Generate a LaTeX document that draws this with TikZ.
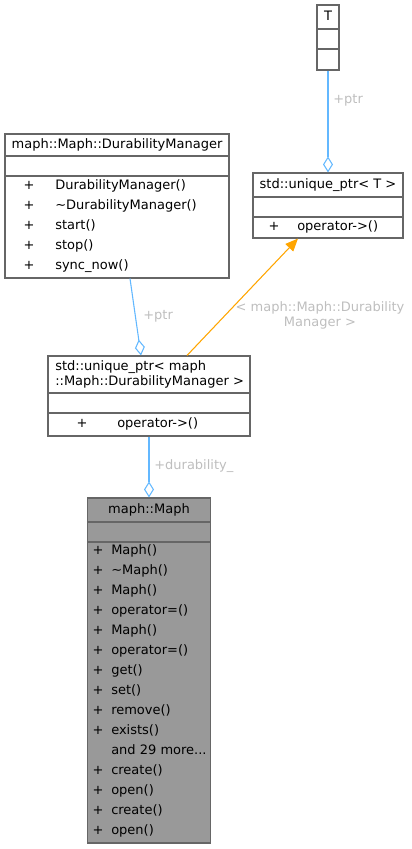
\documentclass[tikz,border=0pt]{standalone}
\usepackage{fontspec}
\setmainfont{DejaVu Sans}
\usepackage{tikz}
\usetikzlibrary{positioning,%
  calc,%
  arrows.meta
}
\definecolor{edgeblue}{HTML}{63B8FF}
\definecolor{edgeorange}{HTML}{FFA500}
\definecolor{boxgray}{HTML}{666666}
\definecolor{focusgray}{HTML}{999999}
\definecolor{labelgray}{HTML}{BEBEBE}

\begin{document}
\begin{tikzpicture}[x=0.75pt,y=-0.75pt,
    classbox/.style 2 args={draw=boxgray,line width=0.8pt,fill=white,inner sep=0pt,
        minimum width=#1*0.75pt,minimum height=#2*0.75pt},
    sepline/.style={draw=boxgray,line width=0.8pt},
    txt/.style={inner sep=0pt,font=\fontsize{9.75}{11.25}\selectfont,
        text height=7.3pt,text depth=2.3pt},
    lbl/.style={txt,text=labelgray},
    aggr/.style={draw=edgeblue,line width=0.8pt,
        -{Diamond[open,length=12pt,width=7.5pt]}},
    tmpl/.style={draw=edgeorange,line width=0.8pt,
        -{Triangle[length=9.5pt,width=8pt]}}]
    \useasboundingbox (0,0) rectangle (411,849);

    % T
    \node[classbox={22}{65}] (t) at (328,37.5) {};
    \node[txt] (ttitle) at (328,17) {T};
    \draw[sepline] (t.west |- 0,29) -- (t.east |- 0,29);
    \draw[sepline] (t.west |- 0,49) -- (t.east |- 0,49);

    % std::unique_ptr< T >
    \node[classbox={150}{65}] (utp) at (328,205.5) {};
    \node[txt] (utptitle) at (328,185) {std::unique\_ptr< T >};
    \draw[sepline] (utp.west |- 0,197) -- (utp.east |- 0,197);
    \draw[sepline] (utp.west |- 0,217) -- (utp.east |- 0,217);
    \node[txt] (utpplus) at (274,227) {+};
    \node[txt,anchor=west] (utpop) at (297,227) {operator->()};

    % maph::Maph::DurabilityManager
    \node[classbox={224}{144}] (dm) at (117,206) {};
    \node[txt] (dmtitle) at (117,145) {maph::Maph::DurabilityManager};
    \draw[sepline] (dm.west |- 0,156) -- (dm.east |- 0,156);
    \draw[sepline] (dm.west |- 0,176) -- (dm.east |- 0,176);
    \node[txt] (dmplusa) at (29,186) {+};
    \node[txt,anchor=west] (dmctor) at (55,186) {DurabilityManager()};
    \node[txt] (dmplusb) at (29,206) {+};
    \node[txt,anchor=west] (dmdtor) at (55,206) {\textasciitilde DurabilityManager()};
    \node[txt] (dmplusc) at (29,226) {+};
    \node[txt,anchor=west] (dmstart) at (55,226) {start()};
    \node[txt] (dmplusd) at (29,246) {+};
    \node[txt,anchor=west] (dmstop) at (55,246) {stop()};
    \node[txt] (dmpluse) at (29,266) {+};
    \node[txt,anchor=west] (dmsync) at (55,266) {sync\_now()};

    % std::unique_ptr< maph::Maph::DurabilityManager >
    \node[classbox={202}{80}] (updm) at (149,396) {};
    \node[txt,anchor=west,align=left,text height=,text depth=] (updmtitle) at (55,374.5)
        {std::unique\_ptr< maph\\::Maph::DurabilityManager >};
    \draw[sepline] (updm.west |- 0,393) -- (updm.east |- 0,393);
    \draw[sepline] (updm.west |- 0,413) -- (updm.east |- 0,413);
    \node[txt] (updmplus) at (82,424) {+};
    \node[txt,anchor=west] (updmop) at (117,424) {operator->()};

    % maph::Maph
    \node[classbox={123}{345},fill=focusgray] (maph) at (149,670.5) {};
    \node[txt] (maphtitle) at (149,510) {maph::Maph};
    \draw[sepline] (maph.west |- 0,522) -- (maph.east |- 0,522);
    \draw[sepline] (maph.west |- 0,542) -- (maph.east |- 0,542);
    \node[txt] at (98,551.5) {+};
    \node[txt,anchor=west] (mctora) at (111,551.5) {Maph()};
    \node[txt] at (98,571.5) {+};
    \node[txt,anchor=west] (mdtor) at (111,571.5) {\textasciitilde Maph()};
    \node[txt] at (98,591.5) {+};
    \node[txt,anchor=west] (mctorb) at (111,591.5) {Maph()};
    \node[txt] at (98,611.5) {+};
    \node[txt,anchor=west] (massigna) at (111,611.5) {operator=()};
    \node[txt] at (98,631.5) {+};
    \node[txt,anchor=west] (mctorc) at (111,631.5) {Maph()};
    \node[txt] at (98,651.5) {+};
    \node[txt,anchor=west] (massignb) at (111,651.5) {operator=()};
    \node[txt] at (98,671.5) {+};
    \node[txt,anchor=west] (mget) at (111,671.5) {get()};
    \node[txt] at (98,691.5) {+};
    \node[txt,anchor=west] (mset) at (111,691.5) {set()};
    \node[txt] at (98,711.5) {+};
    \node[txt,anchor=west] (mremove) at (111,711.5) {remove()};
    \node[txt] at (98,731.5) {+};
    \node[txt,anchor=west] (mexists) at (111,731.5) {exists()};
    \node[txt,anchor=west] (mmore) at (111,751.5) {and 29 more...};
    \node[txt] at (98,771.5) {+};
    \node[txt,anchor=west] (mcreatea) at (111,771.5) {create()};
    \node[txt] at (98,791.5) {+};
    \node[txt,anchor=west] (mopena) at (111,791.5) {open()};
    \node[txt] at (98,811.5) {+};
    \node[txt,anchor=west] (mcreateb) at (111,811.5) {create()};
    \node[txt] at (98,831.5) {+};
    \node[txt,anchor=west] (mopenb) at (111,831.5) {open()};

    % connectors
    \draw[aggr] (t) -- (utp);
    \node[lbl,anchor=west] (ptrt) at (333,100) {+ptr};
    \draw[aggr] ($(dm.south)+(13,0)$) -- ($(updm.north)+(-8,0)$);
    \node[lbl,anchor=west] (ptrdm) at (143,316) {+ptr};
    \draw[tmpl] ($(updm.north)+(38,0)$) -- ($(utp.south)+(-30,0)$);
    \node[lbl,align=center,text height=,text depth=] (tmplarg) at (320,315.5)
        {< maph::Maph::Durability\\Manager >};
    \draw[aggr] (updm) -- (maph);
    \node[lbl,anchor=west] (durab) at (154,466) {+durability\_};
\end{tikzpicture}
\end{document}
